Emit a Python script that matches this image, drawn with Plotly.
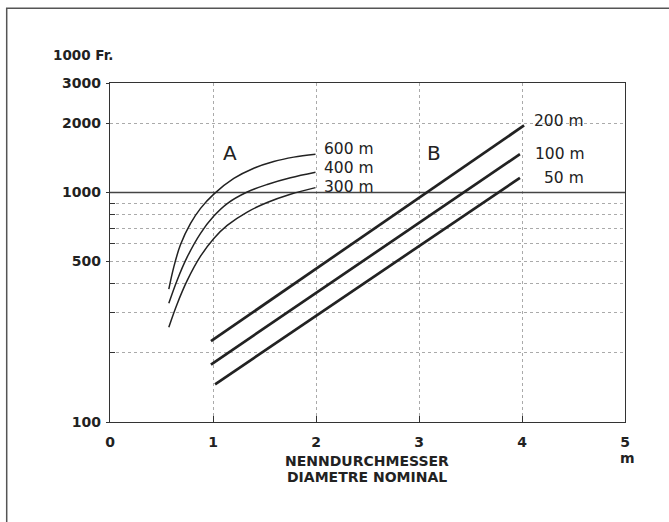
import plotly.graph_objects as go

# ---- data ----
# Group A curves (x in m, y in 1000 Fr.)
a_x = [0.571, 0.652, 0.750, 0.879, 1.008, 1.138, 1.332, 1.526, 1.752, 1.995]
a600_x = [0.571, 0.619, 0.684, 0.782, 0.879, 1.008, 1.202, 1.396, 1.590, 1.784, 1.995]
a600_y = [379, 473, 592, 733, 853, 984, 1151, 1276, 1365, 1426, 1469]
a400_y = [329, 415, 524, 664, 789, 895, 1005, 1084, 1159, 1225]
a300_y = [259, 327, 414, 528, 631, 719, 822, 904, 982, 1050]

# Group B straight lines
b200_x = [0.98, 4.02]
b200_y = [225, 1960]
b100_x = [0.98, 3.98]
b100_y = [178, 1469]
b50_x = [1.02, 3.98]
b50_y = [146, 1159]

x_ticks = [0, 1, 2, 3, 4, 5]
y_ticks = [100, 500, 1000, 2000, 3000]
y_minor = [200, 300, 400, 600, 700, 800, 900]

FONT = "DejaVu Sans"
INK = "#222"

fig = go.Figure()

# 1000 reference line
fig.add_trace(go.Scatter(x=[0, 5], y=[1000, 1000], mode="lines",
                         line=dict(color="#444", width=1.3), hoverinfo="skip"))

for ys, xs in [(a600_y, a600_x), (a400_y, a_x), (a300_y, a_x)]:
    fig.add_trace(go.Scatter(x=xs, y=ys, mode="lines",
                             line=dict(color=INK, width=1.5, shape="spline", smoothing=1.0),
                             hoverinfo="skip"))

for xs, ys in [(b200_x, b200_y), (b100_x, b100_y), (b50_x, b50_y)]:
    fig.add_trace(go.Scatter(x=xs, y=ys, mode="lines",
                             line=dict(color=INK, width=2.7), hoverinfo="skip"))

W, H, L, T = 515, 339, 110, 83


def px(xp):
    return (xp - L) / W


def py(yp):
    return (T + H - yp) / H


annots = [
    # text, x(data), y(paper), size, xanchor
    ("200 m", (531.7 - L) / 103, py(120.7), 15.5, "left"),
    ("100 m", (533.3 - L) / 103, py(154.0), 15.5, "left"),
    ("50 m", (541.7 - L) / 103, py(177.7), 15.5, "left"),
    ("600 m", (321.7 - L) / 103, py(149.3), 15.5, "left"),
    ("400 m", (321.7 - L) / 103, py(168.3), 15.5, "left"),
    ("300 m", (321.7 - L) / 103, py(187.3), 15.5, "left"),
    ("A", (229.7 - L) / 103, py(152.5), 20, "center"),
    ("B", (433.7 - L) / 103, py(152.5), 20, "center"),
]
for text, xv, yv, size, xa in annots:
    fig.add_annotation(x=xv, y=yv, xref="x", yref="paper", text=text, showarrow=False,
                       xanchor=xa, yanchor="middle",
                       font=dict(family=FONT, size=size, color=INK))

fig.add_annotation(x=px(51), y=py(55.3), xref="paper", yref="paper", text="<b>1000 Fr.</b>",
                   showarrow=False, xanchor="left", yanchor="middle",
                   font=dict(family=FONT, size=13.5, color=INK))
fig.add_annotation(x=px(367), y=py(461), xref="paper", yref="paper", text="<b>NENNDURCHMESSER</b>",
                   showarrow=False, xanchor="center", yanchor="middle",
                   font=dict(family=FONT, size=14, color=INK))
fig.add_annotation(x=px(367), y=py(477), xref="paper", yref="paper", text="<b>DIAMETRE NOMINAL</b>",
                   showarrow=False, xanchor="center", yanchor="middle",
                   font=dict(family=FONT, size=14, color=INK))
fig.add_annotation(x=px(627.5), y=py(458), xref="paper", yref="paper", text="<b>m</b>",
                   showarrow=False, xanchor="center", yanchor="middle",
                   font=dict(family=FONT, size=14, color=INK))

# outer frame of the figure
fig.add_shape(type="rect", xref="paper", yref="paper",
              x0=px(6.7), x1=px(680), y0=py(8.3), y1=py(540),
              line=dict(color="#555", width=1.5), fillcolor="rgba(0,0,0,0)")

fig.update_layout(
    width=669, height=522,
    margin=dict(l=L, r=669 - L - W, t=T, b=522 - T - H),
    paper_bgcolor="white", plot_bgcolor="white",
    showlegend=False,
    font=dict(family=FONT, color=INK),
)

fig.update_xaxes(
    range=[0, 5], tickmode="array", tickvals=x_ticks,
    ticktext=[f"<b>{v}</b>" for v in x_ticks],
    tickfont=dict(family=FONT, size=14, color=INK),
    showline=True, mirror=True, linecolor="#333", linewidth=1.3,
    ticks="inside", ticklen=6, tickcolor="#333", tickwidth=1.2,
    showgrid=True, gridcolor="#aaa", griddash="dot", gridwidth=1,
    zeroline=False, ticklabelstandoff=7,
)

fig.update_yaxes(
    type="log", range=[2, 3.4771], tickmode="array", tickvals=y_ticks,
    ticktext=[f"<b>{v}</b>" for v in y_ticks],
    tickfont=dict(family=FONT, size=14, color=INK),
    showline=True, mirror=True, linecolor="#333", linewidth=1.3,
    ticks="outside", ticklen=3, tickcolor="#333", tickwidth=1.2,
    showgrid=True, gridcolor="#aaa", griddash="dot", gridwidth=1,
    zeroline=False, ticklabelstandoff=2,
    minor=dict(tickmode="array", tickvals=y_minor, ticks="inside", ticklen=5,
               tickcolor="#333", tickwidth=1.3, showgrid=True,
               gridcolor="#aaa", griddash="dot", gridwidth=1),
)

fig.write_html("out.html")
